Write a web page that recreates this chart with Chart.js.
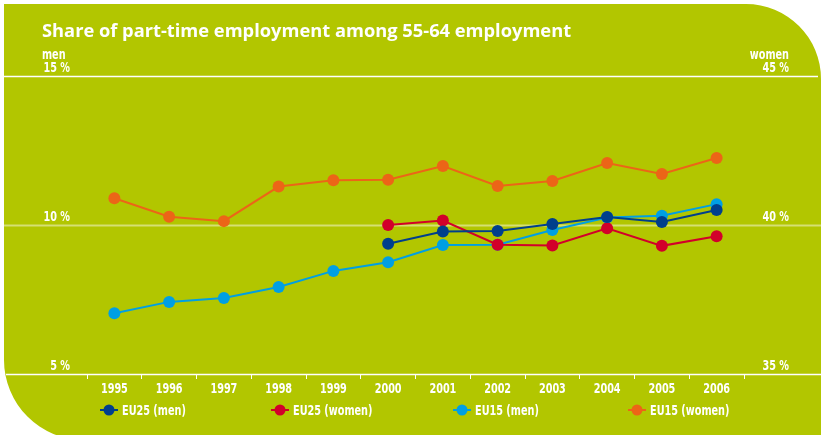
<!DOCTYPE html>
<html>
<head>
<meta charset="utf-8">
<script src="https://cdn.jsdelivr.net/npm/chart.js@4.4.1/dist/chart.umd.min.js"></script>
<style>
  html, body { margin: 0; padding: 0; background: #fff; }
  #wrap { width: 821px; height: 435px; }
</style>
</head>
<body>
<div id="wrap"><canvas id="lineChart" width="821" height="435"></canvas></div>
<script>
/* data */
const years = ["1995", "1996", "1997", "1998", "1999", "2000", "2001", "2002", "2003", "2004", "2005", "2006"];
const eu25Men   = [null, null, null, null, null, 9.37, 9.78, 9.80, 10.03, 10.27, 10.10, 10.50];
const eu25Women = [null, null, null, null, null, 40.00, 40.15, 39.34, 39.31, 39.89, 39.30, 39.62];
const eu15Men   = [7.04, 7.42, 7.55, 7.92, 8.46, 8.75, 9.33, 9.34, 9.83, 10.25, 10.31, 10.70];
const eu15Women = [40.90, 40.28, 40.13, 41.29, 41.50, 41.52, 41.98, 41.31, 41.48, 42.08, 41.71, 42.25];
const menTicks = [5, 10, 15];
const womenTicks = [35, 40, 45];

const green = "#b2c600";
const narrow = '"Liberation Sans Narrow", "DejaVu Sans Condensed", sans-serif';

const series = [
  { label: "EU25 (men)",   data: eu25Men,   color: "#003f8c", axis: "y" },
  { label: "EU25 (women)", data: eu25Women, color: "#d2002a", axis: "y1" },
  { label: "EU15 (men)",   data: eu15Men,   color: "#009fe3", axis: "y" },
  { label: "EU15 (women)", data: eu15Women, color: "#ec6517", axis: "y1" }
];

/* condensed look: squeeze the text sideways */
const squeezeText = (c, text, x, y, align) => {
  c.save();
  c.translate(x, y);
  c.scale(0.77, 1);
  c.textAlign = align;
  c.fillText(text, 0, 0);
  c.restore();
}

/* green card with two rounded corners */
const background = {
  id: "background",
  beforeDraw(chart) {
    const c = chart.ctx;
    c.save();
    c.fillStyle = "#fff";
    c.fillRect(0, 0, chart.width, chart.height);
    c.fillStyle = green;
    c.beginPath();
    c.moveTo(4, 4);
    c.lineTo(746, 4);
    c.arc(746, 79, 75, -Math.PI / 2, 0);
    c.lineTo(821, 435);
    c.lineTo(84, 435);
    c.lineTo(84, 440);
    c.arc(84, 360, 80, Math.PI / 2, Math.PI);
    c.closePath();
    c.fill();
    c.restore();
  },
  beforeDatasetsDraw(chart) {
    const c = chart.ctx;
    const y = chart.scales.y;
    c.save();
    menTicks.forEach((t, i) => {
      const py = Math.round(y.getPixelForValue(t)) + 0.5;
      c.strokeStyle = i == 1 ? "rgba(255,255,255,0.45)" : "#fff";
      c.lineWidth = i == 1 ? 2 : 1.3;
      c.beginPath();
      c.moveTo(i == 0 ? 6 : 4, py);
      c.lineTo(i == 2 ? 818 : 821, py);
      c.stroke();
    });
    c.restore();
  },
  afterDraw(chart) {
    const c = chart.ctx;
    const x = chart.scales.x;
    const y = chart.scales.y;
    const y1 = chart.scales.y1;
    c.save();
    c.fillStyle = "#fff";
    c.textBaseline = "alphabetic";

    // title, fitted to the width in the picture
    let size = 19;
    c.font = "bold " + size + 'px "Open Sans", sans-serif';
    const title = "Share of part-time employment among 55-64 employment";
    size = size * 530 / c.measureText(title).width;
    c.font = "bold " + size.toFixed(1) + 'px "Open Sans", sans-serif';
    c.textAlign = "left";
    c.fillText(title, 42, 37);

    c.font = "bold 14px " + narrow;
    squeezeText(c, "men", 42, 59, "left");
    squeezeText(c, "women", 789, 59, "right");
    menTicks.forEach(t => squeezeText(c, t + " %", 70, y.getPixelForValue(t) - 4, "right"));
    womenTicks.forEach(t => squeezeText(c, t + " %", 789, y1.getPixelForValue(t) - 4, "right"));

    // year labels under the category axis
    years.forEach((yr, i) => squeezeText(c, yr, x.getPixelForValue(i), 393, "center"));

    // legend
    const legendX = [100, 271, 453, 628];
    series.forEach((s, i) => {
      const lx = legendX[i];
      c.strokeStyle = s.color;
      c.lineWidth = 2;
      c.beginPath();
      c.moveTo(lx, 410);
      c.lineTo(lx + 18, 410);
      c.stroke();
      c.fillStyle = s.color;
      c.beginPath();
      c.arc(lx + 9, 410, 5.5, 0, Math.PI * 2);
      c.fill();
      c.fillStyle = "#fff";
      squeezeText(c, s.label, lx + 22, 415, "left");
    });
    c.restore();
  }
};

const ctx = document.getElementById("lineChart").getContext("2d");

new Chart(ctx, {
  type: "line",
  data: {
    labels: years,
    datasets: series.map(s => ({
      label: s.label,
      data: s.data,
      yAxisID: s.axis,
      borderColor: s.color,
      backgroundColor: s.color,
      borderWidth: 2,
      pointRadius: 6,
      pointBorderWidth: 0,
      pointBackgroundColor: s.color,
      spanGaps: false,
      clip: false
    }))
  },
  options: {
    responsive: false,
    animation: false,
    layout: { padding: { left: 87, right: 77, top: 76, bottom: 0 } },
    plugins: {
      legend: { display: false },
      tooltip: { enabled: false }
    },
    scales: {
      x: {
        offset: true,
        border: { display: false },
        grid: {
          offset: true,
          drawOnChartArea: false,
          drawTicks: true,
          tickLength: 5,
          color: "#fff",
          lineWidth: 1
        },
        ticks: { display: false },
        afterFit: (s) => { s.height = 61; }
      },
      y: { display: false, min: 5, max: 15 },
      y1: { display: false, min: 35, max: 45, position: "right" }
    }
  },
  plugins: [background]
});
</script>
</body>
</html>
